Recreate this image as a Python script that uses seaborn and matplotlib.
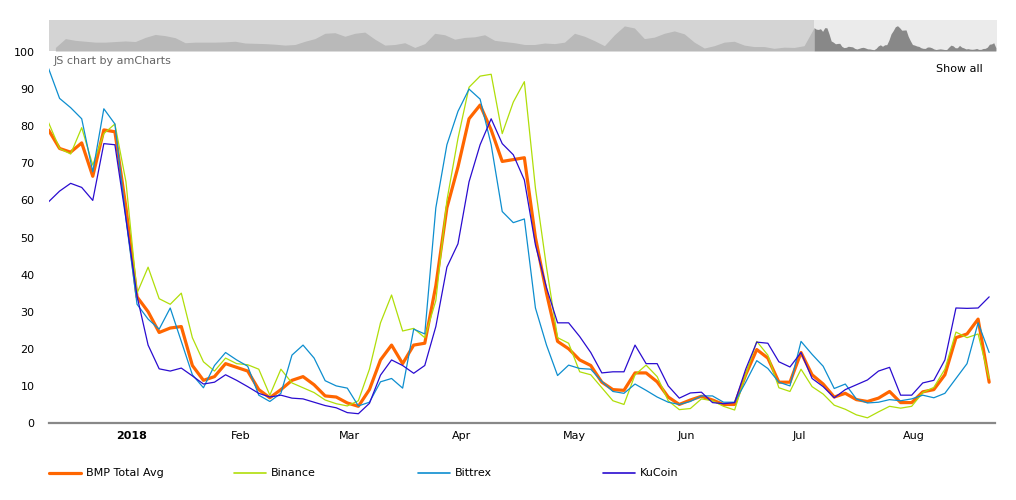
import numpy as np
import pandas as pd
import matplotlib
matplotlib.use("Agg")
import matplotlib.pyplot as plt
import matplotlib.dates as mdates
from matplotlib.lines import Line2D
import seaborn as sns

# ---------------- data ----------------
start_date = "2017-12-25"
step = "3D"
end_view = "2018-09-07 14:00"

series_names = ["BMP Total Avg", "Binance", "Bittrex", "KuCoin"]
colors = ["#FF6600", "#B0DE09", "#0D8ECF", "#2A0CD0"]
line_widths = [2.3, 0.9, 0.9, 0.9]

bmp_avg = [79, 74, 73, 75.5, 66.5, 79, 78.5, 58, 34, 30,
           24.4, 25.6, 26, 15.5, 11.5, 12.5, 16, 15, 14, 9,
           6.8, 9, 11.5, 12.5, 10.3, 7.3, 7, 5.4, 4.5, 9,
           17, 21, 16, 21, 21.5, 37, 58, 69, 82, 85.7,
           79, 70.5, 71, 71.5, 50, 35, 22, 20, 17, 15.5,
           11, 9, 8.8, 13.5, 13.5, 11.1, 7, 5, 6.2, 7.2,
           6.2, 5, 5, 13, 19.8, 17.5, 11, 11, 19, 13,
           10.5, 7, 8, 6.3, 5.8, 6.7, 8.5, 5.5, 5.5, 8.4,
           9, 13, 23, 24, 28, 11]
binance = [81, 74, 72.5, 79.6, 69.5, 78, 80.6, 65, 35, 42,
           33.5, 32, 35, 23, 16.5, 14, 17.5, 16, 15.7, 14.5,
           7.5, 14.5, 10.8, 9.5, 8.2, 6.2, 5.2, 4.6, 6, 14.5,
           27, 34.5, 24.8, 25.5, 23, 33, 60, 76.7, 90.5, 93.5,
           94, 78, 86.5, 92, 63.3, 42, 23, 21.5, 13.8, 13,
           9.5, 6, 5, 13, 15.6, 12.5, 6, 3.6, 3.9, 6.5,
           6, 4.5, 3.5, 13, 22, 18.3, 9.5, 8.5, 14.5, 9.8,
           7.8, 4.8, 3.7, 2.2, 1.4, 3, 4.5, 4, 4.5, 8.2,
           9.6, 14.5, 24.5, 23, 24, 12]
bittrex = [95.6, 87.5, 85, 82, 67.7, 84.7, 80.6, 55, 32, 28,
           25.3, 31, 22, 13, 9.5, 15.5, 19, 17, 15.3, 7.5,
           5.8, 8, 18.3, 21, 17.5, 11.4, 10, 9.4, 4.6, 5.6,
           11.1, 12, 9.4, 25.3, 24, 58, 75, 84, 90, 87.3,
           75, 57, 54, 55, 31, 21, 12.8, 15.6, 14.7, 14.5,
           11.2, 8.5, 8, 10.5, 8.8, 7, 5.6, 5, 5.8, 7.3,
           7.3, 5.6, 5.6, 11, 16.8, 14.7, 11, 10, 22, 18.5,
           15.3, 9.3, 10.5, 6.5, 5.4, 5.6, 6.3, 6, 6.5, 7.5,
           6.8, 8, 12, 16, 27, 19]
kucoin = [59.6, 62.5, 64.6, 63.5, 60, 75.3, 75, 55, 34.2, 21,
          14.6, 14, 14.8, 12.7, 10.5, 11, 13, 11.5, 9.8, 8,
          7, 7.5, 6.7, 6.5, 5.6, 4.7, 4.1, 2.8, 2.5, 5.3,
          12.9, 17, 15.5, 13.4, 15.5, 26, 42, 48.3, 65, 75,
          82, 75.3, 72.3, 65.5, 48, 36.5, 27, 27, 23.3, 19,
          13.5, 13.8, 13.8, 21, 16, 16, 10, 6.7, 8.1, 8.3,
          5.5, 5.2, 5.5, 14.5, 21.8, 21.5, 16.5, 15.1, 19, 12,
          9.8, 6.8, 9, 10.3, 11.6, 14, 15, 7.5, 7.5, 10.8,
          11.5, 17, 31, 30.9, 31, 34]

# scrollbar history (before the selected range), every 14 days
hist_end = "2017-12-11"
hist_step = "14D"
hist_vals = [12, 42, 36, 33, 30, 30, 32, 34, 32, 46,
             56, 52, 45, 28, 30, 30, 30, 31, 33, 27,
             26, 25, 23, 20, 22, 33, 42, 60, 62, 50,
             60, 64, 40, 20, 22, 28, 12, 25, 60, 55,
             40, 46, 48, 55, 36, 32, 28, 22, 22, 27,
             25, 30, 60, 50, 35, 18, 55, 85, 78, 42,
             47, 60, 68, 58, 30, 10, 18, 30, 33, 20,
             15, 15, 9, 13, 12, 18]
hist_days_before_view = 1073

month_labels = ["2018", "Feb", "Mar", "Apr", "May", "Jun", "Jul", "Aug"]
y_ticks = list(range(0, 101, 10))

# ---------------- build frames ----------------
dates = pd.date_range(start_date, periods=len(bmp_avg), freq=step)
df = pd.DataFrame({"date": dates, "BMP Total Avg": bmp_avg, "Binance": binance,
                   "Bittrex": bittrex, "KuCoin": kucoin})
long = df.melt(id_vars="date", var_name="series", value_name="value")

sns.set_theme(style="white")
plt.rcParams["font.family"] = ["DejaVu Sans"]

W, H = 1016, 500
fig = plt.figure(figsize=(W / 100, H / 100), dpi=100)
fig.patch.set_facecolor("white")

# ---------------- main chart ----------------
ax = fig.add_axes([48.5 / W, 1 - 423 / H, (995 - 48.5) / W, 371 / H])
ax.set_facecolor("white")
for name, c, lw in zip(series_names, colors, line_widths):
    sns.lineplot(data=long[long["series"] == name], x="date", y="value",
                 color=c, linewidth=lw, ax=ax, legend=False)

x_left = pd.Timestamp(start_date)
x_right = pd.Timestamp(end_view)
ax.set_xlim(x_left, x_right)
ax.set_ylim(0, 100)
ax.set_xlabel("")
ax.set_ylabel("")
ax.grid(False)

month_starts = pd.date_range("2018-01-01", "2018-09-01", freq="MS")
ax.set_xticks(mdates.date2num(month_starts))
ax.set_xticklabels([])
mids = [a + (b - a) / 2 for a, b in zip(month_starts[:-1], month_starts[1:])]
ax.set_xticks(mdates.date2num(mids), minor=True)
ax.set_xticklabels(month_labels, minor=True)
ax.tick_params(axis="x", which="major", length=14, width=1.6, color="#888888",
               direction="out")
ax.tick_params(axis="x", which="minor", length=0, pad=6, labelsize=8,
               labelcolor="#000000")
ax.get_xticklabels(minor=True)[0].set_fontweight("bold")

ax.set_yticks(y_ticks)
ax.set_yticklabels([str(v) for v in y_ticks])
ax.tick_params(axis="y", length=0, pad=10, labelsize=8, labelcolor="#000000")

for s in ["left", "top", "right"]:
    ax.spines[s].set_visible(False)
ax.spines["bottom"].set_color("#888888")
ax.spines["bottom"].set_linewidth(1.6)

fig.text(54 / W, 1 - 61 / H, "JS chart by amCharts", color="#666666",
         fontsize=8, va="center", ha="left")
fig.text(936 / W, 1 - 69 / H, "Show all", color="#000000",
         fontsize=8, va="center", ha="left")

# ---------------- scrollbar ----------------
sax = fig.add_axes([49 / W, 1 - 51 / H, 948 / W, 31 / H])
sax.set_facecolor("#d4d4d4")
hist_dates = pd.date_range(end=hist_end, periods=len(hist_vals), freq=hist_step)
full_dates = list(hist_dates) + [dates[0]]
full_vals = list(hist_vals) + [bmp_avg[0]]
sax.fill_between(full_dates, full_vals, 0, color="#b9b9b9", lw=0, zorder=2)
sax.axvspan(dates[0], x_right, color="#ebebeb", lw=0, zorder=1)
sax.fill_between(dates, bmp_avg, 0, color="#888888", lw=0, zorder=3)
sax.set_xlim(x_left - pd.Timedelta(days=hist_days_before_view), x_right)
sax.set_ylim(0, 105)
sax.set_xticks([])
sax.set_yticks([])
for s in sax.spines.values():
    s.set_visible(False)

# ---------------- legend ----------------
leg_y = 1 - 473 / H
leg_x = [49, 234, 418, 603]
for x0, name, c, lw in zip(leg_x, series_names, colors, line_widths):
    fig.add_artist(Line2D([x0 / W, (x0 + 32) / W], [leg_y, leg_y], color=c,
                          lw=max(lw, 1.2), transform=fig.transFigure))
    fig.text((x0 + 37) / W, leg_y, name, va="center", ha="left", fontsize=8,
             color="#000000")

fig.savefig("out.png", dpi=100)
